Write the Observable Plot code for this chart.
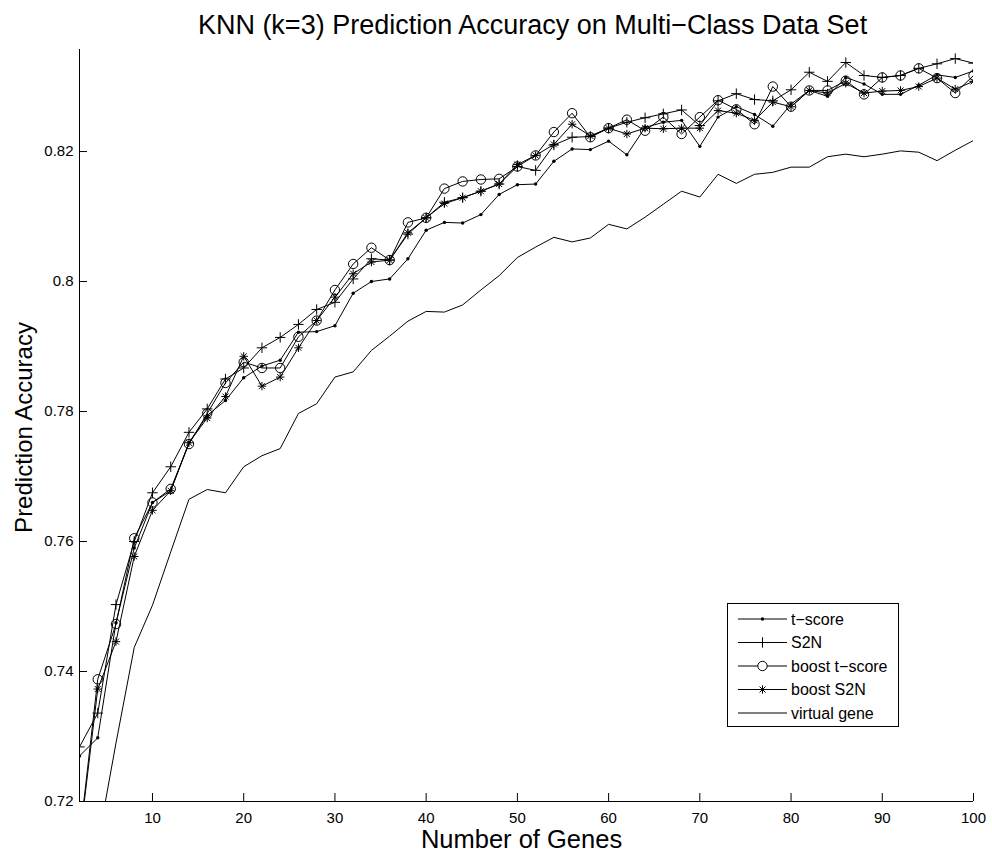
<!DOCTYPE html>
<html>
<head>
<meta charset="utf-8">
<script src="https://cdn.jsdelivr.net/npm/d3@7"></script>
<script src="https://cdn.jsdelivr.net/npm/@observablehq/plot@0.6"></script>
<style>
  body { margin: 0; background: #fff; }
  #chart svg { display: block; }
</style>
</head>
<body>
<div id="chart"></div>
<script>
// Number of selected genes (x axis)
const genes = [2, 4, 6, 8, 10, 12, 14, 16, 18, 20,
               22, 24, 26, 28, 30, 32, 34, 36, 38, 40,
               42, 44, 46, 48, 50, 52, 54, 56, 58, 60,
               62, 64, 66, 68, 70, 72, 74, 76, 78, 80,
               82, 84, 86, 88, 90, 92, 94, 96, 98, 100];

// Prediction accuracy for each gene-selection method
const tScore = [0.7270, 0.7298, 0.7475, 0.7590, 0.7660, 0.7678, 0.7752, 0.7794, 0.7817, 0.7852,
                0.7870, 0.7879, 0.7922, 0.7923, 0.7932, 0.7982, 0.8000, 0.8004, 0.8035, 0.8079,
                0.8091, 0.8090, 0.8103, 0.8134, 0.8149, 0.8150, 0.8185, 0.8204, 0.8203, 0.8216,
                0.8195, 0.8237, 0.8245, 0.8248, 0.8208, 0.8253, 0.8269, 0.8257, 0.8239, 0.8273,
                0.8294, 0.8285, 0.8314, 0.8304, 0.8288, 0.8288, 0.8302, 0.8318, 0.8314, 0.8324];

const s2n = [0.7284, 0.7336, 0.7503, 0.7600, 0.7675, 0.7715, 0.7768, 0.7804, 0.7850, 0.7867,
             0.7898, 0.7914, 0.7934, 0.7957, 0.7968, 0.8004, 0.8035, 0.8033, 0.8073, 0.8098,
             0.8122, 0.8129, 0.8139, 0.8150, 0.8177, 0.8171, 0.8210, 0.8222, 0.8223, 0.8236,
             0.8245, 0.8252, 0.8258, 0.8264, 0.8240, 0.8278, 0.8289, 0.8280, 0.8278, 0.8295,
             0.8322, 0.8308, 0.8337, 0.8317, 0.8314, 0.8317, 0.8328, 0.8335, 0.8343, 0.8336];

const boostTScore = [0.7142, 0.7388, 0.7473, 0.7605, 0.7660, 0.7681, 0.7750, 0.7797, 0.7844, 0.7876,
                     0.7867, 0.7867, 0.7915, 0.7940, 0.7987, 0.8027, 0.8052, 0.8033, 0.8091, 0.8098,
                     0.8143, 0.8154, 0.8157, 0.8158, 0.8177, 0.8194, 0.8230, 0.8259, 0.8222, 0.8236,
                     0.8249, 0.8232, 0.8253, 0.8227, 0.8253, 0.8279, 0.8265, 0.8242, 0.8300, 0.8269,
                     0.8294, 0.8294, 0.8309, 0.8288, 0.8314, 0.8317, 0.8328, 0.8313, 0.8290, 0.8317];

const boostS2N = [0.7138, 0.7373, 0.7446, 0.7577, 0.7648, 0.7678, 0.7752, 0.7790, 0.7823, 0.7885,
                  0.7839, 0.7853, 0.7898, 0.7940, 0.7976, 0.8012, 0.8030, 0.8033, 0.8075, 0.8098,
                  0.8120, 0.8129, 0.8139, 0.8150, 0.8180, 0.8194, 0.8211, 0.8242, 0.8224, 0.8236,
                  0.8227, 0.8236, 0.8235, 0.8236, 0.8236, 0.8263, 0.8259, 0.8248, 0.8276, 0.8269,
                  0.8294, 0.8290, 0.8305, 0.8290, 0.8293, 0.8294, 0.8300, 0.8313, 0.8296, 0.8308];

const virtualGene = [0.7000, 0.7135, 0.7290, 0.7437, 0.7502, 0.7584, 0.7665, 0.7680, 0.7675, 0.7715,
                     0.7732, 0.7743, 0.7797, 0.7812, 0.7853, 0.7861, 0.7894, 0.7916, 0.7939, 0.7954,
                     0.7953, 0.7964, 0.7987, 0.8009, 0.8037, 0.8053, 0.8068, 0.8061, 0.8067, 0.8088,
                     0.8081, 0.8099, 0.8119, 0.8139, 0.8130, 0.8165, 0.8151, 0.8165, 0.8168, 0.8176,
                     0.8176, 0.8192, 0.8196, 0.8192, 0.8196, 0.8201, 0.8199, 0.8186, 0.8202, 0.8217];

const seriesNames = ["t\u2212score", "S2N", "boost t\u2212score", "boost S2N", "virtual gene"];
const xTicks = [10, 20, 30, 40, 50, 60, 70, 80, 90, 100];
const yTicks = [0.72, 0.74, 0.76, 0.78, 0.8, 0.82];

const titleText = "KNN (k=3) Prediction Accuracy on Multi\u2212Class Data Set";
const xLabel = "Number of Genes";
const yLabel = "Prediction Accuracy";

// Marker shapes in the style of MATLAB line specs ('.', '+', 'o', '*')
const armOf = size => Math.sqrt(size / Math.PI);
const symPlus = {
  draw(ctx, size) {
    const r = armOf(size);
    ctx.moveTo(-r, 0); ctx.lineTo(r, 0);
    ctx.moveTo(0, -r); ctx.lineTo(0, r);
  }
};
const symStar = {
  draw(ctx, size) {
    const r = armOf(size), d = r * Math.SQRT1_2;
    ctx.moveTo(-r, 0); ctx.lineTo(r, 0);
    ctx.moveTo(0, -r); ctx.lineTo(0, r);
    ctx.moveTo(-d, -d); ctx.lineTo(d, d);
    ctx.moveTo(-d, d); ctx.lineTo(d, -d);
  }
};
const symCircle = {
  draw(ctx, size) {
    const r = armOf(size);
    ctx.moveTo(r, 0); ctx.arc(0, 0, r, 0, 2 * Math.PI);
  }
};

const styles = [
  {values: tScore,      marker: "dot",     r: 1.7},
  {values: s2n,         marker: symPlus,   r: 5.2},
  {values: boostTScore, marker: symCircle, r: 4.7},
  {values: boostS2N,    marker: symStar,   r: 4.2},
  {values: virtualGene, marker: null,      r: 0}
];

const rows = styles.map((s, i) =>
  genes.map((g, j) => ({series: seriesNames[i], genes: g, acc: s.values[j]})));

const font = "Helvetica, Arial, 'Liberation Sans', sans-serif";
const W = 992, H = 852;
const mL = 79, mR = 19, mT = 49, mB = 51;
const frameW = W - mL - mR, frameH = H - mT - mB;

const marks = [];
// Series lines, drawn back to front
rows.slice().reverse().forEach(data => {
  marks.push(Plot.line(data, {x: "genes", y: "acc", stroke: "black", strokeWidth: 1, clip: true}));
});
styles.forEach((s, i) => {
  if (!s.marker) return;
  if (s.marker === "dot") {
    marks.push(Plot.dot(rows[i], {x: "genes", y: "acc", r: s.r, fill: "black", stroke: "none", clip: true}));
  } else {
    marks.push(Plot.dot(rows[i], {x: "genes", y: "acc", r: s.r, symbol: s.marker, fill: "none", stroke: "black", strokeWidth: 1, clip: true}));
  }
});

const chart = Plot.plot({
  width: W,
  height: H,
  marginLeft: mL,
  marginRight: mR,
  marginTop: mT,
  marginBottom: mB,
  style: {fontFamily: font, fontSize: "15px", color: "black", background: "white"},
  x: {domain: [2, 100]},
  y: {domain: [0.72, 0.8357]},
  marks: [
    ...marks,
    // axis lines (box off)
    Plot.ruleX([2], {stroke: "black", strokeWidth: 1}),
    Plot.ruleY([0.72], {stroke: "black", strokeWidth: 1}),
    // inward ticks
    Plot.ruleX(xTicks, {stroke: "black", strokeWidth: 1, insetTop: frameH - 8}),
    Plot.ruleY(yTicks, {stroke: "black", strokeWidth: 1, insetRight: frameW - 8}),
    Plot.axisX({ticks: xTicks, tickSize: 0, tickPadding: 11, label: null, fontSize: 15, fill: "black", tickFormat: d => String(d)}),
    Plot.axisY({ticks: yTicks, tickSize: 0, tickPadding: 6, label: null, fontSize: 15, fill: "black", tickFormat: d => String(d)}),
    // title and axis labels
    Plot.text([titleText], {frameAnchor: "top", textAnchor: "middle", lineAnchor: "middle", dx: 6, dy: -24.5, fontSize: 27, fill: "black"}),
    Plot.text([xLabel], {frameAnchor: "bottom", textAnchor: "middle", lineAnchor: "middle", dx: -5, dy: 38, fontSize: 25.5, fill: "black"}),
    Plot.text([yLabel], {frameAnchor: "left", textAnchor: "middle", lineAnchor: "middle", dx: -55, dy: 2, rotate: -90, fontSize: 24, fill: "black"})
  ]
});

document.getElementById("chart").appendChild(chart);

// Legend box in the lower right of the axes
const svg = d3.select(chart);
const lg = svg.append("g").attr("font-family", font).attr("font-size", 16).attr("text-anchor", "start");
const box = {x: 727.5, y: 603.5, w: 171, h: 123};
lg.append("rect").attr("x", box.x).attr("y", box.y).attr("width", box.w).attr("height", box.h)
  .attr("fill", "white").attr("stroke", "black").attr("stroke-width", 1);
seriesNames.forEach((name, i) => {
  const cy = 619 + i * 23.5;
  lg.append("line").attr("x1", 738).attr("x2", 787).attr("y1", cy).attr("y2", cy)
    .attr("stroke", "black").attr("stroke-width", 1);
  const s = styles[i];
  if (s.marker === "dot") {
    lg.append("circle").attr("cx", 762.5).attr("cy", cy).attr("r", s.r).attr("fill", "black");
  } else if (s.marker) {
    const p = d3.path();
    s.marker.draw(p, Math.PI * s.r * s.r);
    lg.append("path").attr("d", p.toString()).attr("transform", `translate(762.5,${cy})`)
      .attr("fill", "white").attr("stroke", "black").attr("stroke-width", 1);
  }
  lg.append("text").attr("x", 791).attr("y", cy).attr("dy", "0.35em").attr("fill", "black")
    .attr("text-anchor", "start").text(name);
});
</script>
</body>
</html>
